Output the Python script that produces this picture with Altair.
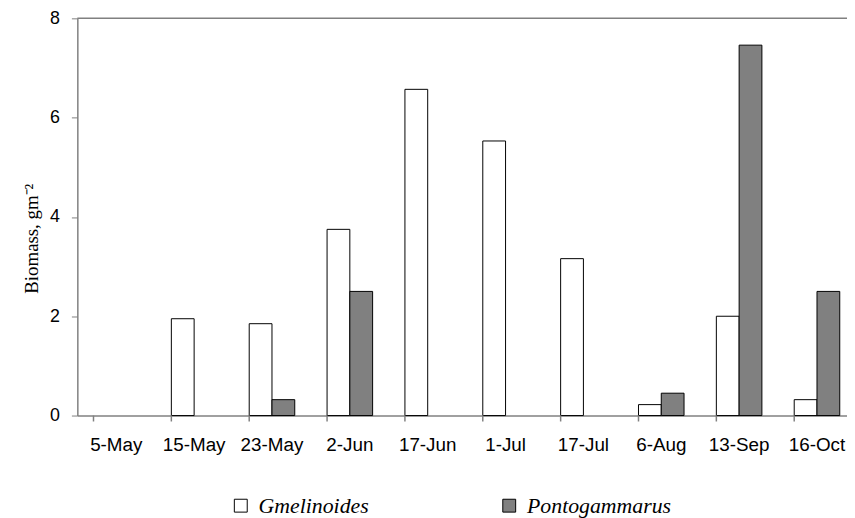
import altair as alt
import pandas as pd

dates = ["5-May", "15-May", "23-May", "2-Jun", "17-Jun", "1-Jul", "17-Jul", "6-Aug", "13-Sep", "16-Oct"]
species = ["Gmelinoides", "Pontogammarus"]
gmelinoides = [0, 1.95, 1.85, 3.75, 6.57, 5.53, 3.16, 0.22, 2.0, 0.32]
pontogammarus = [0, 0, 0.32, 2.5, 0, 0, 0, 0.45, 7.46, 2.5]
y_ticks = [0, 2, 4, 6, 8]

rows = []
for d, g, p in zip(dates, gmelinoides, pontogammarus):
    rows.append({"date": d, "species": species[0], "value": g})
    rows.append({"date": d, "species": species[1], "value": p})
df = pd.DataFrame(rows)
cats = pd.DataFrame({"date": dates})

xscale = alt.Scale(domain=dates, paddingInner=0.415, paddingOuter=0.2075)
yscale = alt.Scale(domain=[0, 8], nice=False)

bars = alt.Chart(df).transform_filter("datum.value > 0").mark_bar(
    stroke="#000000", strokeWidth=1
).encode(
    x=alt.X("date:N", scale=xscale, sort=dates,
            axis=alt.Axis(title=None, labelAngle=0, ticks=False, tickSize=0,
                          labelPadding=20, labelFont="Liberation Sans",
                          labelFontSize=19, labelColor="#000000",
                          domainColor="#808080", domainWidth=1.5)),
    xOffset=alt.XOffset("species:N", scale=alt.Scale(domain=species, paddingInner=0, paddingOuter=0)),
    y=alt.Y("value:Q", scale=yscale,
            axis=alt.Axis(values=y_ticks, title="Biomass, gm⁻²", grid=False,
                          tickSize=6, tickColor="#808080", domainColor="#808080",
                          domainWidth=1.5, labelPadding=12,
                          labelFont="Liberation Sans", labelFontSize=18,
                          labelColor="#000000", titleFont="Liberation Serif",
                          titleFontSize=19, titleFontWeight="normal",
                          titleColor="#000000", titlePadding=8, titleY=222)),
    color=alt.Color("species:N",
                    scale=alt.Scale(domain=species, range=["#ffffff", "#808080"]),
                    legend=alt.Legend(title=None, orient="none", direction="horizontal",
                                      legendX=154, legendY=481,
                                      symbolType="square", symbolSize=169,
                                      symbolStrokeColor="#000000", symbolStrokeWidth=1,
                                      labelFont="Liberation Serif", labelFontStyle="italic",
                                      labelFontSize=22, labelColor="#000000",
                                      labelOffset=7, columnPadding=130)),
)

ticks = alt.Chart(cats).mark_rule(color="#808080", strokeWidth=1.5).encode(
    x=alt.X("date:N", scale=xscale, sort=dates, bandPosition=0),
    y=alt.value(401),
    y2=alt.value(407),
)

top = alt.Chart(pd.DataFrame({"v": [8]})).mark_rule(color="#808080", strokeWidth=1.5).encode(
    y=alt.Y("v:Q", scale=yscale)
)

chart = alt.layer(top, bars, ticks).properties(
    width=786, height=401,
    autosize=alt.AutoSizeParams(type="none"),
    padding={"left": 70, "top": 8, "right": -9, "bottom": 101},
).configure_view(stroke=None)

chart.save("out.html", embed_options={"renderer": "svg", "actions": False})
